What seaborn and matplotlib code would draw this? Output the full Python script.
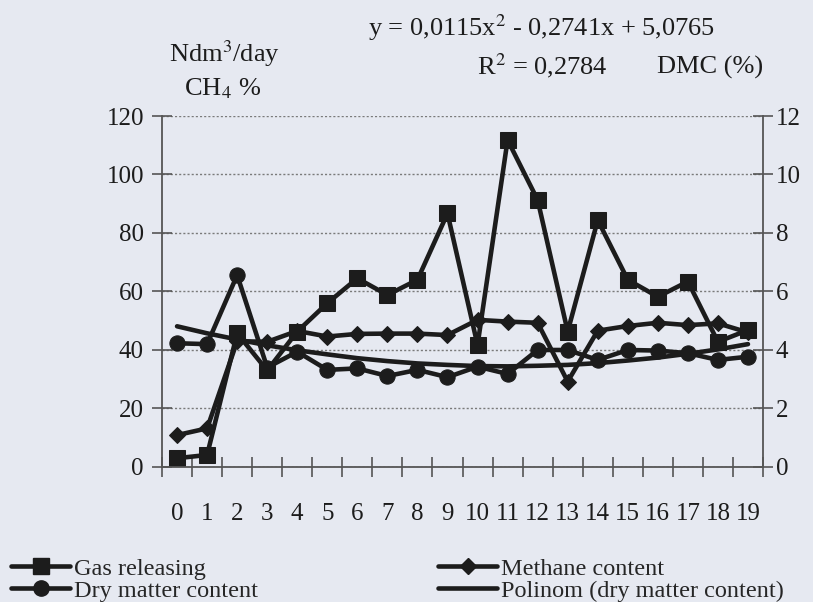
import matplotlib
matplotlib.use("Agg")
import matplotlib.pyplot as plt
from matplotlib.lines import Line2D
import seaborn as sns
import numpy as np

sns.set_theme(style="white")
plt.rcParams["font.family"] = ["Liberation Serif", "DejaVu Serif"]
plt.rcParams["mathtext.fontset"] = "stix"

BG = "#e6e9f1"
INK = "#1c1c1c"
AXC = "#555555"

# ---- data ----
samples = [str(i) for i in range(20)]
gas_releasing = [3.0, 4.1, 45.7, 33.0, 46.3, 56.0, 64.5, 58.8, 64.0, 86.7,
                 41.7, 111.8, 91.3, 46.3, 84.4, 64.0, 58.2, 63.4, 42.8, 46.8]
methane = [10.9, 13.2, 43.0, 42.8, 46.5, 44.6, 45.5, 45.6, 45.6, 45.1,
           50.3, 49.7, 49.3, 29.2, 46.6, 48.2, 49.3, 48.5, 49.1, 46.0]
dry_matter = [4.23, 4.20, 6.56, 3.40, 3.94, 3.32, 3.37, 3.11, 3.32, 3.07,
              3.43, 3.18, 4.00, 4.00, 3.66, 4.00, 3.98, 3.89, 3.66, 3.77]
polinom = [4.81, 4.57, 4.36, 4.16, 3.99, 3.85, 3.72, 3.62, 3.54, 3.49,
           3.45, 3.44, 3.46, 3.49, 3.55, 3.64, 3.74, 3.87, 4.02, 4.20]
left_ticks = [0, 20, 40, 60, 80, 100, 120]
right_ticks = [0, 2, 4, 6, 8, 10, 12]

pos = np.arange(len(samples))

fig = plt.figure(figsize=(8.13, 6.02), dpi=100, facecolor=BG)
ax = fig.add_axes([0.1993, 0.2243, 0.7392, 0.5830])
ax.set_facecolor(BG)
ax2 = ax.twinx()

lw = 3.3
sns.lineplot(x=pos, y=gas_releasing, ax=ax, color=INK, lw=lw, marker="s",
             markersize=12, markeredgecolor=INK, legend=False)
sns.lineplot(x=pos, y=methane, ax=ax, color=INK, lw=lw, marker="D",
             markersize=8, markeredgecolor=INK, legend=False)
sns.lineplot(x=pos, y=dry_matter, ax=ax2, color=INK, lw=lw, marker="o",
             markersize=11, markeredgecolor=INK, legend=False)
sns.lineplot(x=pos, y=polinom, ax=ax2, color=INK, lw=lw, legend=False)

ax.set_xlim(-0.5, len(samples) - 0.5)
ax.set_ylim(0, 120)
ax2.set_ylim(0, 12)
ax.set_yticks(left_ticks)
ax2.set_yticks(right_ticks)
ax.set_xticks(pos)
ax.set_xticklabels(samples)
ax.set_xticks(np.arange(len(samples) + 1) - 0.5, minor=True)

ax.yaxis.grid(True, linestyle=(0, (1.5, 1.5)), color="#7a7a7a", lw=1.0)
ax.set_axisbelow(True)

for a in (ax, ax2):
    for s in a.spines.values():
        s.set_visible(False)
ax.spines["left"].set_visible(True)
ax.spines["bottom"].set_visible(True)
ax2.spines["right"].set_visible(True)
for s in (ax.spines["left"], ax.spines["bottom"], ax2.spines["right"]):
    s.set_color(AXC)
    s.set_linewidth(1.3)

ax.tick_params(axis="y", direction="inout", length=14, width=1.2, color=AXC,
               labelsize=18, pad=6, labelcolor=INK, left=True)
ax2.tick_params(axis="y", direction="inout", length=14, width=1.2, color=AXC,
                labelsize=18, pad=2, labelcolor=INK, right=True)
ax.tick_params(axis="x", which="major", length=0, labelsize=18, pad=26,
               labelcolor=INK)
ax.tick_params(axis="x", which="minor", direction="inout", length=14,
               width=1.2, color=AXC, bottom=True)
ax.set_xlabel("")
ax.set_ylabel("")
ax2.set_ylabel("")

# header texts
fs = 19
fig.text(224 / 813, 1 - 54 / 602, "Ndm$^3$/day", ha="center", va="center", fontsize=fs, color=INK)
fig.text(223 / 813, 1 - 89 / 602, "CH$_4$ %", ha="center", va="center", fontsize=fs, color=INK)
fig.text(542 / 813, 1 - 28 / 602, "y = 0,0115x$^2$ - 0,2741x + 5,0765", ha="center",
         va="center", fontsize=fs, color=INK)
fig.text(542 / 813, 1 - 66 / 602, "R$^2$ = 0,2784", ha="center", va="center", fontsize=fs, color=INK)
fig.text(657 / 813, 1 - 67 / 602, "DMC (%)", ha="left", va="center", fontsize=fs, color=INK)

handles = [
    Line2D([], [], color=INK, lw=lw, marker="s", markersize=12),
    Line2D([], [], color=INK, lw=lw, marker="o", markersize=11),
    Line2D([], [], color=INK, lw=lw, marker="D", markersize=8),
    Line2D([], [], color=INK, lw=lw),
]
labels = ["Gas releasing", "Dry matter content", "Methane content",
          "Polinom (dry matter content)"]
fig.legend(handles, labels, ncol=2, loc="upper left",
           bbox_to_anchor=(6 / 813, 1 - 553 / 602), frameon=False, fontsize=17.5,
           handlelength=2.45, handletextpad=0.15, labelspacing=0.0,
           columnspacing=7.4, borderaxespad=0, borderpad=0.2)

fig.savefig("out.png", dpi=100, facecolor=BG)
